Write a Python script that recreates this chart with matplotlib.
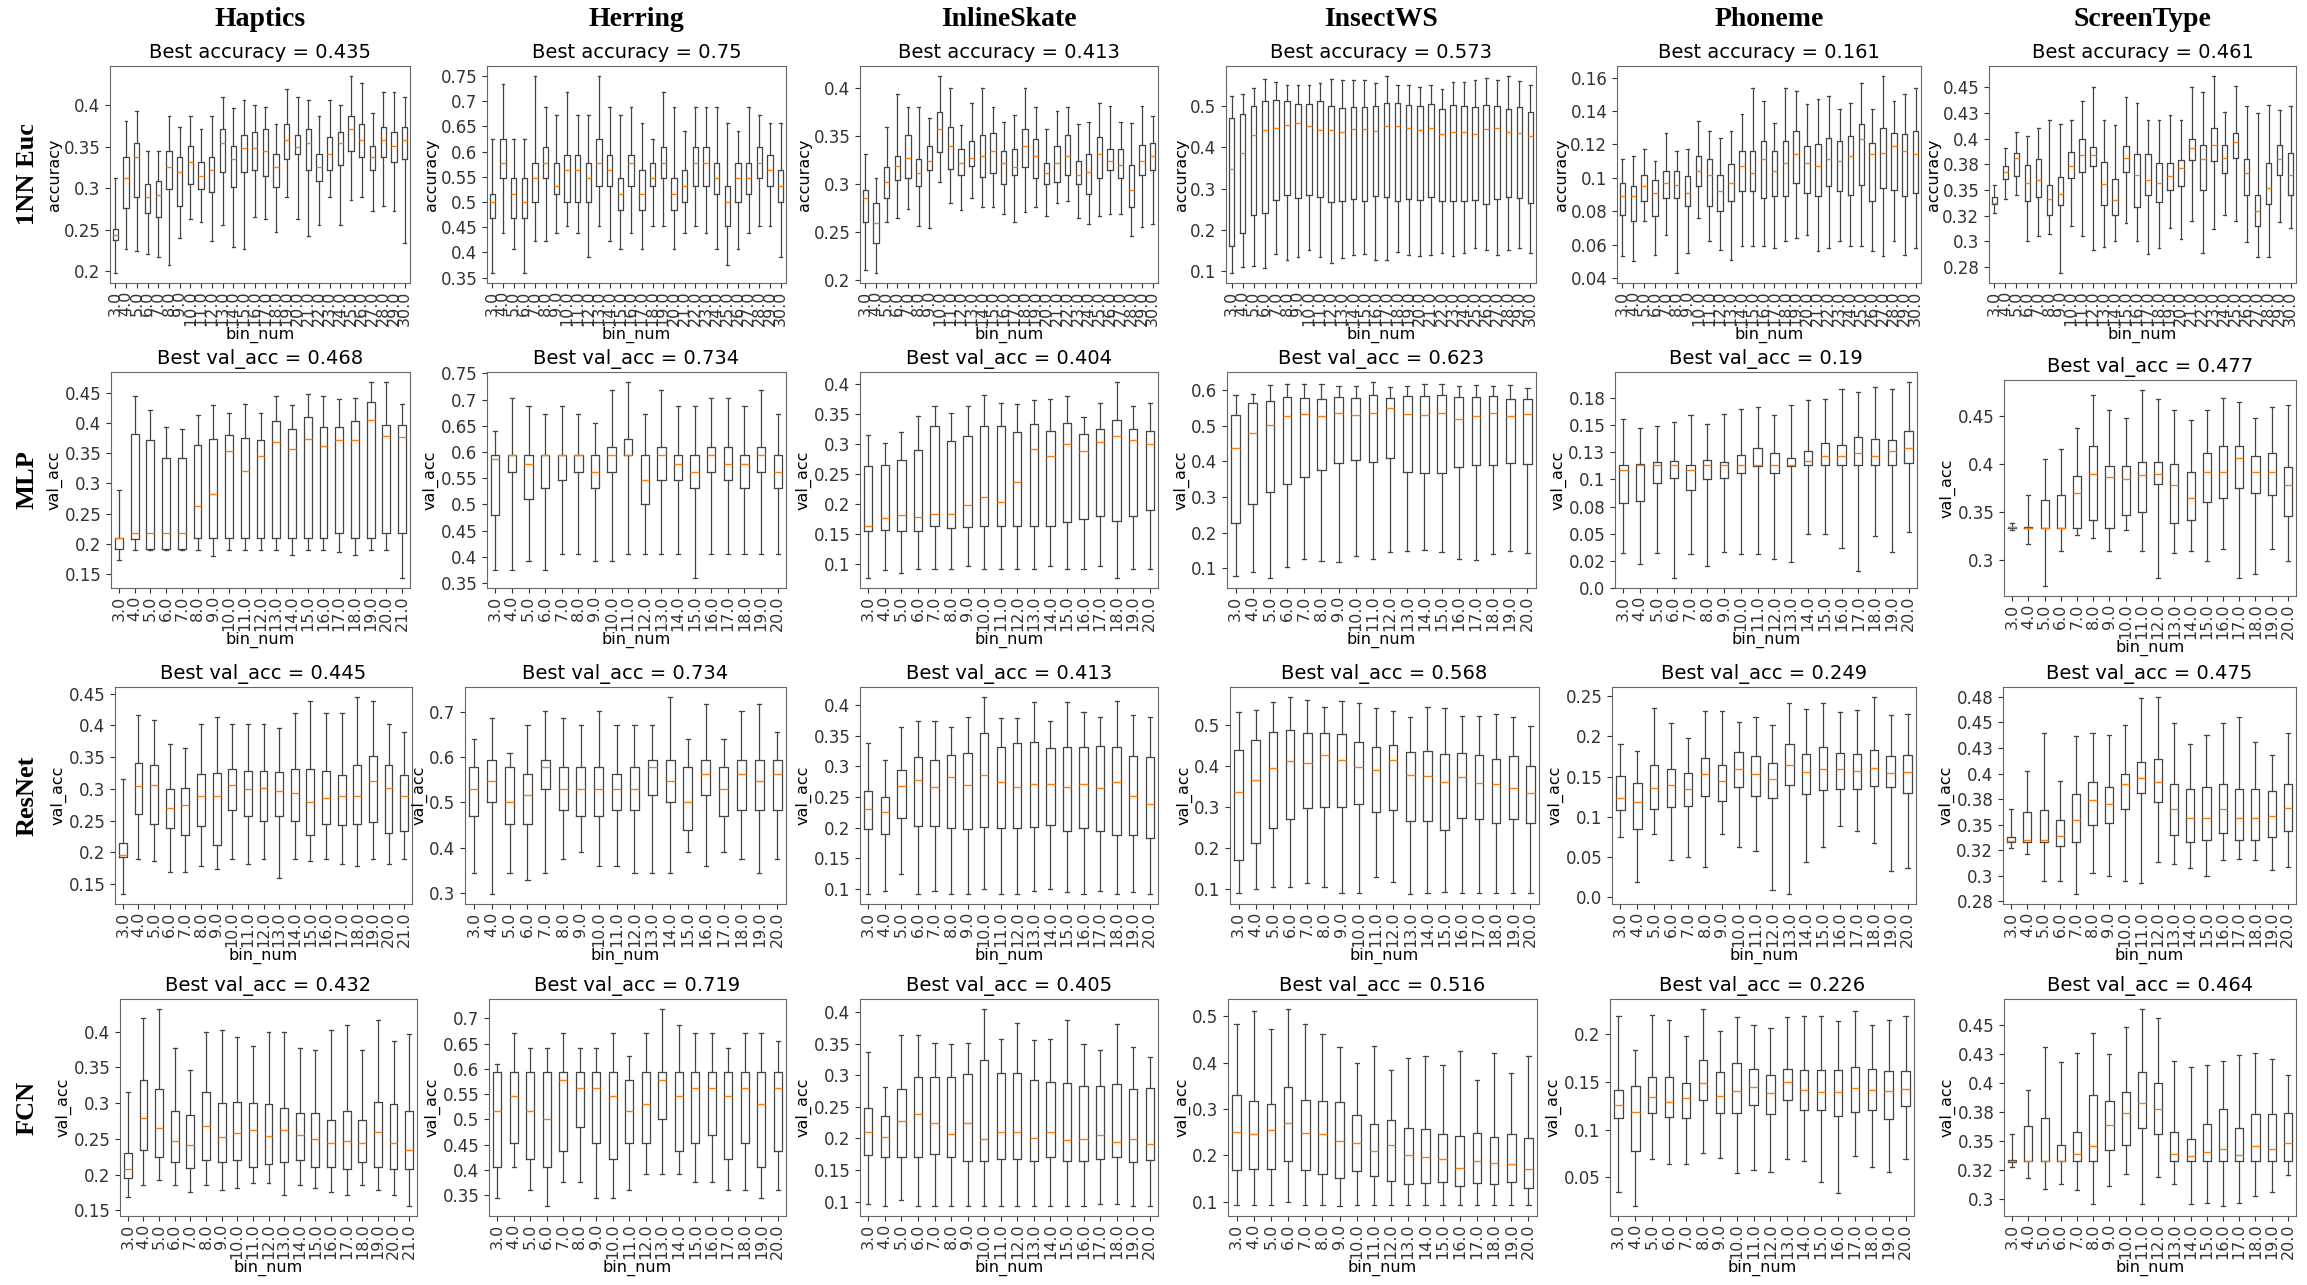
import matplotlib
matplotlib.use('Agg')
import matplotlib.pyplot as plt
from matplotlib.ticker import FuncFormatter, MaxNLocator

# (whisker low, q1, median, q3, whisker high) per bin
DATASETS = ['Haptics', 'Herring', 'InlineSkate', 'InsectWS', 'Phoneme', 'ScreenType']
MODELS = ['1NN Euc', 'MLP', 'ResNet', 'FCN']
YLABELS = ['accuracy', 'val_acc', 'val_acc', 'val_acc']

BINS_1NN = [float(b) for b in range(3, 31)]
BINS_DL = [float(b) for b in range(3, 21)]
BINS_DL_HAPTICS = [float(b) for b in range(3, 22)]

BEST_1NN = [0.435, 0.75, 0.413, 0.573, 0.161, 0.461]
BEST_MLP = [0.468, 0.734, 0.404, 0.623, 0.19, 0.477]
BEST_RESNET = [0.445, 0.734, 0.413, 0.568, 0.249, 0.475]
BEST_FCN = [0.432, 0.719, 0.405, 0.516, 0.226, 0.464]

# ---- 1NN Euc ----
NN_HAPTICS = [
    (0.198, 0.238, 0.244, 0.251, 0.312), (0.227, 0.276, 0.312, 0.338, 0.381),
    (0.224, 0.290, 0.338, 0.354, 0.393), (0.221, 0.270, 0.290, 0.305, 0.345),
    (0.217, 0.266, 0.292, 0.309, 0.345), (0.208, 0.299, 0.325, 0.345, 0.387),
    (0.240, 0.279, 0.319, 0.338, 0.374), (0.263, 0.305, 0.332, 0.351, 0.387),
    (0.260, 0.299, 0.315, 0.332, 0.371), (0.237, 0.296, 0.322, 0.338, 0.387),
    (0.256, 0.320, 0.354, 0.371, 0.410), (0.230, 0.302, 0.335, 0.351, 0.396),
    (0.227, 0.319, 0.348, 0.364, 0.406), (0.266, 0.322, 0.348, 0.368, 0.400),
    (0.263, 0.315, 0.345, 0.371, 0.397), (0.247, 0.302, 0.325, 0.341, 0.377),
    (0.289, 0.335, 0.358, 0.377, 0.419), (0.263, 0.341, 0.350, 0.364, 0.410),
    (0.243, 0.322, 0.354, 0.371, 0.406), (0.256, 0.309, 0.325, 0.341, 0.387),
    (0.289, 0.322, 0.341, 0.361, 0.406), (0.256, 0.328, 0.354, 0.368, 0.400),
    (0.286, 0.345, 0.371, 0.387, 0.435), (0.289, 0.338, 0.358, 0.377, 0.426),
    (0.273, 0.322, 0.338, 0.351, 0.390), (0.279, 0.338, 0.358, 0.374, 0.416),
    (0.273, 0.332, 0.351, 0.367, 0.416), (0.234, 0.335, 0.358, 0.374, 0.410),
]
NN_HERRING = [
    (0.359, 0.469, 0.5, 0.516, 0.625), (0.438, 0.547, 0.578, 0.625, 0.734),
    (0.406, 0.469, 0.516, 0.547, 0.625), (0.359, 0.469, 0.5, 0.547, 0.625),
    (0.422, 0.5, 0.547, 0.578, 0.75), (0.422, 0.547, 0.578, 0.609, 0.688),
    (0.438, 0.516, 0.531, 0.578, 0.672), (0.453, 0.5, 0.5625, 0.594, 0.719),
    (0.438, 0.5, 0.5625, 0.594, 0.672), (0.391, 0.5, 0.547, 0.578, 0.672),
    (0.453, 0.531, 0.578, 0.625, 0.75), (0.422, 0.531, 0.5625, 0.594, 0.688),
    (0.406, 0.484, 0.516, 0.547, 0.672), (0.438, 0.531, 0.578, 0.594, 0.688),
    (0.406, 0.484, 0.516, 0.5625, 0.656), (0.453, 0.531, 0.547, 0.578, 0.625),
    (0.453, 0.547, 0.578, 0.609, 0.719), (0.406, 0.484, 0.516, 0.547, 0.688),
    (0.438, 0.5, 0.531, 0.5625, 0.641), (0.453, 0.531, 0.578, 0.609, 0.688),
    (0.438, 0.531, 0.578, 0.609, 0.688), (0.406, 0.516, 0.547, 0.578, 0.688),
    (0.375, 0.453, 0.5, 0.531, 0.656), (0.406, 0.5, 0.547, 0.578, 0.641),
    (0.438, 0.516, 0.547, 0.578, 0.688), (0.453, 0.547, 0.578, 0.609, 0.672),
    (0.453, 0.531, 0.5625, 0.594, 0.656), (0.391, 0.5, 0.531, 0.5625, 0.656),
]
NN_INLINESKATE = [
    (0.210, 0.260, 0.285, 0.294, 0.331), (0.207, 0.238, 0.259, 0.280, 0.306),
    (0.260, 0.285, 0.302, 0.318, 0.360), (0.265, 0.304, 0.319, 0.329, 0.394),
    (0.274, 0.306, 0.327, 0.351, 0.380), (0.256, 0.298, 0.312, 0.326, 0.380),
    (0.254, 0.315, 0.324, 0.340, 0.369), (0.302, 0.333, 0.358, 0.375, 0.413),
    (0.280, 0.316, 0.340, 0.360, 0.400), (0.273, 0.310, 0.322, 0.337, 0.362),
    (0.285, 0.319, 0.327, 0.345, 0.385), (0.276, 0.307, 0.329, 0.351, 0.400),
    (0.276, 0.312, 0.335, 0.353, 0.380), (0.269, 0.300, 0.322, 0.335, 0.365),
    (0.260, 0.309, 0.318, 0.337, 0.372), (0.271, 0.318, 0.340, 0.358, 0.400),
    (0.276, 0.306, 0.329, 0.347, 0.380), (0.267, 0.300, 0.312, 0.322, 0.357),
    (0.280, 0.302, 0.322, 0.340, 0.376), (0.282, 0.310, 0.329, 0.351, 0.380),
    (0.265, 0.300, 0.309, 0.324, 0.363), (0.258, 0.290, 0.313, 0.331, 0.365),
    (0.267, 0.306, 0.331, 0.349, 0.385), (0.269, 0.315, 0.324, 0.337, 0.382),
    (0.269, 0.306, 0.320, 0.337, 0.365), (0.246, 0.276, 0.294, 0.320, 0.364),
    (0.255, 0.310, 0.324, 0.341, 0.382), (0.258, 0.315, 0.329, 0.343, 0.371),
]
NN_INSECTWS = [
    (0.095, 0.160, 0.348, 0.470, 0.525), (0.110, 0.193, 0.386, 0.480, 0.528),
    (0.112, 0.236, 0.430, 0.500, 0.543), (0.108, 0.241, 0.443, 0.512, 0.565),
    (0.142, 0.273, 0.447, 0.515, 0.558), (0.127, 0.285, 0.453, 0.512, 0.550),
    (0.133, 0.276, 0.458, 0.506, 0.552), (0.152, 0.285, 0.452, 0.505, 0.552),
    (0.135, 0.279, 0.442, 0.511, 0.556), (0.120, 0.267, 0.441, 0.500, 0.565),
    (0.131, 0.270, 0.436, 0.496, 0.562), (0.139, 0.275, 0.445, 0.498, 0.562),
    (0.142, 0.271, 0.445, 0.497, 0.562), (0.128, 0.282, 0.440, 0.500, 0.555),
    (0.128, 0.279, 0.451, 0.507, 0.573), (0.147, 0.271, 0.452, 0.507, 0.552),
    (0.140, 0.275, 0.446, 0.502, 0.552), (0.136, 0.273, 0.442, 0.499, 0.545),
    (0.140, 0.279, 0.447, 0.504, 0.552), (0.145, 0.271, 0.432, 0.493, 0.542),
    (0.136, 0.271, 0.437, 0.503, 0.559), (0.143, 0.270, 0.438, 0.501, 0.559),
    (0.155, 0.272, 0.431, 0.498, 0.562), (0.150, 0.263, 0.445, 0.502, 0.567),
    (0.138, 0.275, 0.446, 0.500, 0.562), (0.152, 0.280, 0.436, 0.493, 0.572),
    (0.155, 0.278, 0.435, 0.498, 0.560), (0.145, 0.265, 0.427, 0.485, 0.552),
]
NN_PHONEME = [
    (0.053, 0.078, 0.089, 0.097, 0.111), (0.050, 0.074, 0.089, 0.095, 0.113),
    (0.074, 0.086, 0.095, 0.102, 0.117), (0.054, 0.077, 0.091, 0.099, 0.110),
    (0.066, 0.088, 0.097, 0.104, 0.127), (0.043, 0.088, 0.096, 0.104, 0.116),
    (0.055, 0.083, 0.091, 0.101, 0.117), (0.076, 0.095, 0.104, 0.113, 0.134),
    (0.062, 0.083, 0.102, 0.111, 0.128), (0.057, 0.080, 0.092, 0.102, 0.124),
    (0.051, 0.086, 0.097, 0.108, 0.128), (0.059, 0.092, 0.107, 0.116, 0.138),
    (0.059, 0.092, 0.103, 0.116, 0.154), (0.059, 0.088, 0.111, 0.122, 0.146),
    (0.058, 0.089, 0.104, 0.116, 0.133), (0.062, 0.089, 0.109, 0.122, 0.154),
    (0.064, 0.097, 0.114, 0.128, 0.152), (0.066, 0.091, 0.109, 0.119, 0.144),
    (0.056, 0.089, 0.107, 0.120, 0.147), (0.058, 0.095, 0.111, 0.124, 0.149),
    (0.062, 0.092, 0.110, 0.122, 0.141), (0.059, 0.090, 0.113, 0.125, 0.145),
    (0.059, 0.096, 0.123, 0.132, 0.157), (0.056, 0.086, 0.114, 0.121, 0.141),
    (0.053, 0.094, 0.115, 0.130, 0.161), (0.062, 0.093, 0.119, 0.127, 0.146),
    (0.054, 0.089, 0.116, 0.126, 0.150), (0.058, 0.091, 0.114, 0.128, 0.154),
]
NN_SCREENTYPE = [
    (0.328, 0.336, 0.337, 0.343, 0.355), (0.341, 0.361, 0.367, 0.373, 0.391),
    (0.345, 0.364, 0.381, 0.386, 0.406), (0.300, 0.339, 0.357, 0.374, 0.402),
    (0.305, 0.343, 0.360, 0.380, 0.410), (0.307, 0.326, 0.341, 0.355, 0.418),
    (0.269, 0.335, 0.346, 0.363, 0.414), (0.315, 0.362, 0.373, 0.387, 0.418),
    (0.305, 0.367, 0.384, 0.400, 0.437), (0.292, 0.373, 0.384, 0.392, 0.450),
    (0.294, 0.335, 0.356, 0.377, 0.418), (0.300, 0.326, 0.340, 0.361, 0.413),
    (0.318, 0.367, 0.381, 0.393, 0.440), (0.300, 0.333, 0.365, 0.385, 0.435),
    (0.288, 0.345, 0.360, 0.385, 0.418), (0.293, 0.338, 0.357, 0.376, 0.418),
    (0.313, 0.350, 0.364, 0.376, 0.423), (0.302, 0.354, 0.371, 0.379, 0.418),
    (0.320, 0.379, 0.391, 0.400, 0.450), (0.289, 0.350, 0.380, 0.394, 0.445),
    (0.312, 0.378, 0.394, 0.410, 0.461), (0.326, 0.366, 0.381, 0.394, 0.426),
    (0.320, 0.381, 0.397, 0.405, 0.451), (0.299, 0.345, 0.366, 0.380, 0.432),
    (0.285, 0.315, 0.329, 0.345, 0.425), (0.285, 0.336, 0.352, 0.376, 0.433),
    (0.319, 0.365, 0.380, 0.394, 0.428), (0.313, 0.345, 0.365, 0.386, 0.432),
]

# ---- MLP ----
MLP_HAPTICS = [
    (0.173, 0.192, 0.209, 0.209, 0.289), (0.189, 0.208, 0.217, 0.381, 0.445),
    (0.189, 0.192, 0.217, 0.371, 0.421), (0.189, 0.192, 0.217, 0.342, 0.393),
    (0.189, 0.192, 0.217, 0.342, 0.390), (0.189, 0.209, 0.263, 0.363, 0.413),
    (0.179, 0.209, 0.283, 0.374, 0.429), (0.189, 0.209, 0.354, 0.380, 0.416),
    (0.189, 0.209, 0.321, 0.375, 0.432), (0.189, 0.209, 0.345, 0.371, 0.416),
    (0.189, 0.209, 0.368, 0.403, 0.445), (0.182, 0.209, 0.357, 0.390, 0.429),
    (0.189, 0.209, 0.374, 0.409, 0.448), (0.189, 0.209, 0.361, 0.393, 0.445),
    (0.186, 0.217, 0.371, 0.393, 0.439), (0.182, 0.210, 0.371, 0.403, 0.442),
    (0.189, 0.209, 0.404, 0.435, 0.468), (0.189, 0.217, 0.378, 0.397, 0.468),
    (0.143, 0.217, 0.377, 0.397, 0.432),
]
MLP_HERRING = [
    (0.375, 0.48, 0.586, 0.594, 0.641), (0.375, 0.5625, 0.594, 0.594, 0.703),
    (0.391, 0.51, 0.578, 0.594, 0.688), (0.375, 0.531, 0.594, 0.594, 0.672),
    (0.406, 0.547, 0.594, 0.594, 0.688), (0.406, 0.5625, 0.594, 0.594, 0.672),
    (0.391, 0.531, 0.5625, 0.594, 0.656), (0.391, 0.5625, 0.594, 0.609, 0.719),
    (0.406, 0.594, 0.594, 0.625, 0.734), (0.406, 0.5, 0.547, 0.594, 0.672),
    (0.406, 0.547, 0.594, 0.609, 0.719), (0.406, 0.547, 0.578, 0.594, 0.688),
    (0.359, 0.531, 0.5625, 0.594, 0.688), (0.406, 0.5625, 0.594, 0.609, 0.703),
    (0.406, 0.547, 0.578, 0.609, 0.703), (0.406, 0.531, 0.578, 0.594, 0.688),
    (0.406, 0.5625, 0.594, 0.609, 0.719), (0.406, 0.531, 0.5625, 0.594, 0.672),
]
MLP_INLINESKATE = [
    (0.077, 0.155, 0.164, 0.264, 0.316), (0.090, 0.157, 0.177, 0.266, 0.302),
    (0.085, 0.155, 0.182, 0.273, 0.320), (0.093, 0.155, 0.179, 0.291, 0.347),
    (0.093, 0.164, 0.184, 0.331, 0.363), (0.093, 0.160, 0.184, 0.306, 0.352),
    (0.097, 0.162, 0.199, 0.313, 0.363), (0.093, 0.164, 0.213, 0.331, 0.382),
    (0.093, 0.164, 0.204, 0.331, 0.369), (0.093, 0.164, 0.238, 0.320, 0.367),
    (0.093, 0.164, 0.292, 0.333, 0.374), (0.097, 0.164, 0.280, 0.322, 0.376),
    (0.093, 0.171, 0.300, 0.335, 0.380), (0.093, 0.175, 0.288, 0.317, 0.345),
    (0.097, 0.180, 0.304, 0.326, 0.369), (0.077, 0.173, 0.313, 0.340, 0.404),
    (0.093, 0.180, 0.307, 0.326, 0.363), (0.093, 0.191, 0.300, 0.322, 0.369),
]
MLP_INSECTWS = [
    (0.077, 0.226, 0.438, 0.530, 0.585), (0.088, 0.280, 0.480, 0.563, 0.590),
    (0.072, 0.313, 0.502, 0.570, 0.614), (0.104, 0.336, 0.527, 0.580, 0.616),
    (0.125, 0.357, 0.532, 0.577, 0.616), (0.120, 0.375, 0.527, 0.574, 0.616),
    (0.117, 0.396, 0.535, 0.581, 0.610), (0.134, 0.405, 0.530, 0.578, 0.612),
    (0.126, 0.397, 0.535, 0.587, 0.623), (0.145, 0.410, 0.550, 0.578, 0.608),
    (0.149, 0.370, 0.532, 0.584, 0.612), (0.150, 0.366, 0.530, 0.584, 0.616),
    (0.145, 0.366, 0.535, 0.587, 0.616), (0.125, 0.383, 0.520, 0.579, 0.610),
    (0.123, 0.390, 0.527, 0.579, 0.614), (0.140, 0.389, 0.535, 0.582, 0.612),
    (0.147, 0.396, 0.528, 0.576, 0.614), (0.142, 0.392, 0.532, 0.574, 0.607),
]
MLP_PHONEME = [
    (0.032, 0.078, 0.109, 0.1135, 0.1555), (0.022, 0.080, 0.1135, 0.114, 0.147),
    (0.032, 0.097, 0.1135, 0.116, 0.149), (0.009, 0.101, 0.1135, 0.117, 0.153),
    (0.031, 0.090, 0.109, 0.1135, 0.159), (0.020, 0.100, 0.1135, 0.1175, 0.151),
    (0.033, 0.101, 0.1135, 0.116, 0.160), (0.031, 0.106, 0.1135, 0.123, 0.165),
    (0.031, 0.112, 0.1135, 0.129, 0.1665), (0.027, 0.106, 0.1135, 0.124, 0.159),
    (0.024, 0.112, 0.1135, 0.120, 0.169), (0.050, 0.1135, 0.117, 0.126, 0.173),
    (0.050, 0.1135, 0.122, 0.134, 0.1745), (0.037, 0.1135, 0.1218, 0.132, 0.183),
    (0.016, 0.1135, 0.124, 0.1395, 0.181), (0.048, 0.1135, 0.122, 0.137, 0.185),
    (0.033, 0.1135, 0.126, 0.136, 0.183), (0.0515, 0.115, 0.1288, 0.145, 0.190),
]
MLP_SCREENTYPE = [
    (0.331, 0.333, 0.334, 0.335, 0.339), (0.317, 0.333, 0.3335, 0.334, 0.368),
    (0.273, 0.333, 0.3335, 0.3625, 0.405), (0.310, 0.333, 0.3335, 0.368, 0.416),
    (0.326, 0.3335, 0.3695, 0.387, 0.437), (0.323, 0.342, 0.390, 0.419, 0.472),
    (0.310, 0.3335, 0.386, 0.398, 0.456), (0.331, 0.347, 0.384, 0.398, 0.448),
    (0.310, 0.350, 0.388, 0.402, 0.477), (0.281, 0.379, 0.390, 0.402, 0.467),
    (0.307, 0.339, 0.378, 0.400, 0.456), (0.310, 0.342, 0.365, 0.392, 0.446),
    (0.299, 0.360, 0.392, 0.411, 0.456), (0.312, 0.365, 0.392, 0.419, 0.469),
    (0.281, 0.375, 0.406, 0.419, 0.464), (0.286, 0.370, 0.392, 0.408, 0.448),
    (0.312, 0.368, 0.392, 0.411, 0.459), (0.299, 0.346, 0.378, 0.397, 0.461),
]

# ---- ResNet ----
RESNET_HAPTICS = [
    (0.134, 0.192, 0.196, 0.215, 0.315), (0.189, 0.260, 0.304, 0.341, 0.416),
    (0.186, 0.244, 0.306, 0.338, 0.409), (0.169, 0.239, 0.270, 0.299, 0.370),
    (0.169, 0.228, 0.275, 0.302, 0.364), (0.179, 0.241, 0.289, 0.323, 0.403),
    (0.173, 0.211, 0.289, 0.325, 0.413), (0.189, 0.266, 0.306, 0.332, 0.403),
    (0.182, 0.257, 0.299, 0.328, 0.403), (0.189, 0.250, 0.301, 0.328, 0.403),
    (0.160, 0.257, 0.296, 0.326, 0.396), (0.189, 0.250, 0.293, 0.332, 0.419),
    (0.186, 0.228, 0.280, 0.332, 0.439), (0.189, 0.244, 0.286, 0.328, 0.419),
    (0.182, 0.243, 0.289, 0.322, 0.419), (0.179, 0.244, 0.288, 0.338, 0.445),
    (0.189, 0.247, 0.312, 0.351, 0.439), (0.182, 0.231, 0.301, 0.338, 0.403),
    (0.189, 0.233, 0.289, 0.322, 0.390),
]
RESNET_HERRING = [
    (0.344, 0.469, 0.531, 0.578, 0.641), (0.297, 0.5, 0.547, 0.594, 0.688),
    (0.344, 0.453, 0.5, 0.578, 0.609), (0.328, 0.453, 0.516, 0.5625, 0.672),
    (0.344, 0.531, 0.578, 0.594, 0.703), (0.375, 0.484, 0.531, 0.578, 0.688),
    (0.391, 0.469, 0.531, 0.578, 0.672), (0.359, 0.469, 0.531, 0.578, 0.703),
    (0.359, 0.484, 0.531, 0.5625, 0.672), (0.344, 0.484, 0.531, 0.578, 0.672),
    (0.344, 0.516, 0.578, 0.594, 0.672), (0.344, 0.5, 0.547, 0.594, 0.734),
    (0.391, 0.438, 0.5, 0.578, 0.641), (0.359, 0.516, 0.5625, 0.594, 0.719),
    (0.391, 0.469, 0.531, 0.578, 0.641), (0.375, 0.484, 0.5625, 0.594, 0.703),
    (0.344, 0.484, 0.547, 0.594, 0.719), (0.375, 0.484, 0.5625, 0.594, 0.656),
]
RESNET_INLINESKATE = [
    (0.093, 0.198, 0.231, 0.260, 0.338), (0.097, 0.190, 0.225, 0.250, 0.310),
    (0.125, 0.216, 0.268, 0.294, 0.364), (0.093, 0.203, 0.278, 0.315, 0.374),
    (0.097, 0.203, 0.267, 0.311, 0.374), (0.093, 0.200, 0.283, 0.318, 0.364),
    (0.093, 0.198, 0.270, 0.322, 0.381), (0.100, 0.201, 0.286, 0.355, 0.413),
    (0.092, 0.200, 0.275, 0.331, 0.378), (0.093, 0.200, 0.267, 0.338, 0.378),
    (0.097, 0.202, 0.272, 0.340, 0.404), (0.100, 0.205, 0.272, 0.329, 0.374),
    (0.095, 0.195, 0.267, 0.331, 0.405), (0.093, 0.200, 0.271, 0.331, 0.389),
    (0.097, 0.195, 0.265, 0.333, 0.381), (0.092, 0.189, 0.275, 0.332, 0.407),
    (0.095, 0.188, 0.252, 0.316, 0.384), (0.092, 0.183, 0.238, 0.315, 0.381),
]
RESNET_INSECTWS = [
    (0.090, 0.170, 0.337, 0.439, 0.530), (0.100, 0.213, 0.366, 0.462, 0.537),
    (0.106, 0.250, 0.396, 0.483, 0.556), (0.106, 0.272, 0.411, 0.488, 0.568),
    (0.115, 0.297, 0.407, 0.481, 0.560), (0.106, 0.300, 0.426, 0.479, 0.543),
    (0.090, 0.300, 0.414, 0.477, 0.557), (0.090, 0.308, 0.398, 0.457, 0.553),
    (0.129, 0.287, 0.391, 0.445, 0.542), (0.118, 0.293, 0.414, 0.451, 0.533),
    (0.088, 0.265, 0.378, 0.433, 0.520), (0.090, 0.266, 0.376, 0.436, 0.543),
    (0.092, 0.244, 0.362, 0.430, 0.542), (0.090, 0.273, 0.374, 0.432, 0.522),
    (0.090, 0.271, 0.358, 0.426, 0.522), (0.090, 0.261, 0.356, 0.417, 0.526),
    (0.090, 0.271, 0.347, 0.425, 0.520), (0.090, 0.262, 0.333, 0.400, 0.497),
]
RESNET_PHONEME = [
    (0.075, 0.108, 0.124, 0.151, 0.190), (0.019, 0.085, 0.118, 0.142, 0.182),
    (0.079, 0.110, 0.136, 0.164, 0.235), (0.047, 0.112, 0.140, 0.160, 0.216),
    (0.050, 0.113, 0.134, 0.155, 0.198), (0.038, 0.126, 0.153, 0.173, 0.231),
    (0.079, 0.120, 0.145, 0.165, 0.232), (0.062, 0.137, 0.160, 0.180, 0.218),
    (0.058, 0.126, 0.153, 0.175, 0.224), (0.009, 0.123, 0.147, 0.167, 0.214),
    (0.004, 0.140, 0.165, 0.190, 0.242), (0.044, 0.128, 0.156, 0.178, 0.234),
    (0.063, 0.133, 0.160, 0.187, 0.242), (0.089, 0.135, 0.159, 0.179, 0.230),
    (0.083, 0.134, 0.157, 0.178, 0.233), (0.067, 0.138, 0.161, 0.183, 0.249),
    (0.033, 0.137, 0.155, 0.175, 0.227), (0.036, 0.130, 0.156, 0.177, 0.228),
]
RESNET_SCREENTYPE = [
    (0.327, 0.333, 0.334, 0.338, 0.365), (0.321, 0.333, 0.335, 0.362, 0.402),
    (0.295, 0.333, 0.335, 0.364, 0.440), (0.295, 0.329, 0.339, 0.355, 0.393),
    (0.282, 0.333, 0.355, 0.380, 0.437), (0.303, 0.350, 0.374, 0.392, 0.440),
    (0.300, 0.352, 0.370, 0.387, 0.438), (0.295, 0.365, 0.390, 0.400, 0.447),
    (0.293, 0.381, 0.396, 0.411, 0.474), (0.313, 0.372, 0.392, 0.414, 0.475),
    (0.311, 0.340, 0.365, 0.390, 0.449), (0.308, 0.333, 0.356, 0.385, 0.429),
    (0.300, 0.335, 0.356, 0.387, 0.438), (0.315, 0.342, 0.365, 0.390, 0.449),
    (0.316, 0.335, 0.356, 0.385, 0.455), (0.315, 0.335, 0.356, 0.385, 0.431),
    (0.306, 0.338, 0.358, 0.383, 0.418), (0.309, 0.344, 0.366, 0.390, 0.440),
]

# ---- FCN ----
FCN_HAPTICS = [
    (0.169, 0.196, 0.208, 0.231, 0.315), (0.186, 0.234, 0.279, 0.332, 0.419),
    (0.192, 0.225, 0.266, 0.320, 0.432), (0.186, 0.218, 0.247, 0.289, 0.377),
    (0.176, 0.210, 0.242, 0.283, 0.347), (0.186, 0.221, 0.268, 0.315, 0.400),
    (0.178, 0.218, 0.253, 0.300, 0.403), (0.182, 0.221, 0.258, 0.302, 0.392),
    (0.189, 0.211, 0.262, 0.300, 0.380), (0.189, 0.215, 0.254, 0.299, 0.400),
    (0.172, 0.218, 0.263, 0.293, 0.400), (0.186, 0.220, 0.256, 0.286, 0.377),
    (0.182, 0.211, 0.250, 0.286, 0.374), (0.176, 0.211, 0.244, 0.276, 0.403),
    (0.172, 0.208, 0.247, 0.289, 0.409), (0.186, 0.218, 0.244, 0.276, 0.374),
    (0.179, 0.211, 0.260, 0.302, 0.416), (0.172, 0.208, 0.245, 0.299, 0.387),
    (0.156, 0.208, 0.235, 0.289, 0.397),
]
FCN_HERRING = [
    (0.344, 0.406, 0.516, 0.594, 0.609), (0.406, 0.453, 0.547, 0.594, 0.672),
    (0.359, 0.422, 0.516, 0.594, 0.641), (0.328, 0.406, 0.5, 0.594, 0.641),
    (0.375, 0.438, 0.578, 0.594, 0.672), (0.375, 0.484, 0.5625, 0.594, 0.641),
    (0.344, 0.453, 0.5625, 0.594, 0.641), (0.344, 0.422, 0.547, 0.594, 0.672),
    (0.359, 0.453, 0.516, 0.578, 0.625), (0.391, 0.453, 0.531, 0.594, 0.672),
    (0.391, 0.5, 0.578, 0.594, 0.719), (0.391, 0.438, 0.547, 0.594, 0.688),
    (0.375, 0.453, 0.5625, 0.594, 0.672), (0.375, 0.469, 0.5625, 0.594, 0.672),
    (0.359, 0.422, 0.547, 0.594, 0.641), (0.359, 0.453, 0.5625, 0.594, 0.672),
    (0.344, 0.406, 0.531, 0.594, 0.672), (0.359, 0.438, 0.5625, 0.594, 0.656),
]
FCN_INLINESKATE = [
    (0.096, 0.174, 0.211, 0.248, 0.337), (0.093, 0.171, 0.202, 0.235, 0.282),
    (0.102, 0.171, 0.228, 0.279, 0.364), (0.093, 0.171, 0.238, 0.297, 0.364),
    (0.093, 0.175, 0.224, 0.297, 0.351), (0.094, 0.170, 0.207, 0.297, 0.349),
    (0.093, 0.165, 0.225, 0.302, 0.351), (0.093, 0.164, 0.199, 0.324, 0.405),
    (0.093, 0.168, 0.210, 0.304, 0.358), (0.093, 0.167, 0.211, 0.304, 0.382),
    (0.093, 0.165, 0.200, 0.293, 0.356), (0.094, 0.171, 0.210, 0.290, 0.358),
    (0.093, 0.165, 0.198, 0.287, 0.387), (0.093, 0.165, 0.199, 0.283, 0.349),
    (0.096, 0.167, 0.206, 0.283, 0.340), (0.096, 0.171, 0.195, 0.286, 0.381),
    (0.093, 0.163, 0.199, 0.278, 0.344), (0.093, 0.166, 0.192, 0.280, 0.329),
]
FCN_INSECTWS = [
    (0.093, 0.167, 0.250, 0.330, 0.484), (0.093, 0.170, 0.245, 0.318, 0.512),
    (0.093, 0.170, 0.254, 0.310, 0.473), (0.098, 0.188, 0.270, 0.347, 0.516),
    (0.093, 0.168, 0.249, 0.320, 0.484), (0.093, 0.160, 0.245, 0.316, 0.462),
    (0.090, 0.150, 0.230, 0.314, 0.433), (0.093, 0.166, 0.227, 0.287, 0.400),
    (0.093, 0.156, 0.209, 0.267, 0.435), (0.093, 0.144, 0.222, 0.275, 0.384),
    (0.093, 0.138, 0.200, 0.259, 0.410), (0.093, 0.140, 0.197, 0.257, 0.415),
    (0.093, 0.142, 0.191, 0.246, 0.395), (0.093, 0.134, 0.173, 0.242, 0.425),
    (0.092, 0.139, 0.187, 0.247, 0.363), (0.093, 0.138, 0.183, 0.240, 0.420),
    (0.092, 0.142, 0.181, 0.245, 0.378), (0.092, 0.129, 0.171, 0.238, 0.414),
]
FCN_PHONEME = [
    (0.035, 0.112, 0.126, 0.141, 0.219), (0.020, 0.078, 0.118, 0.145, 0.183),
    (0.069, 0.117, 0.134, 0.155, 0.220), (0.064, 0.113, 0.129, 0.155, 0.214),
    (0.064, 0.112, 0.133, 0.149, 0.198), (0.075, 0.131, 0.149, 0.173, 0.226),
    (0.070, 0.117, 0.135, 0.160, 0.203), (0.055, 0.117, 0.140, 0.169, 0.217),
    (0.058, 0.126, 0.144, 0.163, 0.209), (0.056, 0.116, 0.138, 0.157, 0.206),
    (0.069, 0.131, 0.150, 0.163, 0.217), (0.067, 0.120, 0.141, 0.162, 0.219),
    (0.045, 0.120, 0.139, 0.162, 0.219), (0.034, 0.114, 0.139, 0.162, 0.213),
    (0.072, 0.118, 0.143, 0.165, 0.224), (0.061, 0.120, 0.141, 0.163, 0.209),
    (0.056, 0.111, 0.140, 0.161, 0.214), (0.069, 0.125, 0.142, 0.161, 0.219),
]
FCN_SCREENTYPE = [
    (0.328, 0.332, 0.333, 0.334, 0.356), (0.318, 0.333, 0.333, 0.363, 0.394),
    (0.309, 0.333, 0.333, 0.370, 0.431), (0.313, 0.333, 0.333, 0.347, 0.418),
    (0.308, 0.333, 0.339, 0.358, 0.426), (0.296, 0.333, 0.346, 0.390, 0.443),
    (0.311, 0.342, 0.364, 0.385, 0.425), (0.322, 0.347, 0.374, 0.392, 0.448),
    (0.296, 0.361, 0.383, 0.410, 0.464), (0.319, 0.356, 0.378, 0.400, 0.456),
    (0.313, 0.333, 0.339, 0.358, 0.419), (0.296, 0.333, 0.337, 0.352, 0.414),
    (0.297, 0.333, 0.341, 0.365, 0.416), (0.294, 0.333, 0.343, 0.378, 0.419),
    (0.297, 0.333, 0.338, 0.361, 0.424), (0.303, 0.333, 0.346, 0.373, 0.426),
    (0.306, 0.333, 0.343, 0.373, 0.421), (0.321, 0.333, 0.348, 0.374, 0.407),
]

GRID = [
    [NN_HAPTICS, NN_HERRING, NN_INLINESKATE, NN_INSECTWS, NN_PHONEME, NN_SCREENTYPE],
    [MLP_HAPTICS, MLP_HERRING, MLP_INLINESKATE, MLP_INSECTWS, MLP_PHONEME, MLP_SCREENTYPE],
    [RESNET_HAPTICS, RESNET_HERRING, RESNET_INLINESKATE, RESNET_INSECTWS, RESNET_PHONEME, RESNET_SCREENTYPE],
    [FCN_HAPTICS, FCN_HERRING, FCN_INLINESKATE, FCN_INSECTWS, FCN_PHONEME, FCN_SCREENTYPE],
]
BEST = [BEST_1NN, BEST_MLP, BEST_RESNET, BEST_FCN]

# axes boxes in pixels: (left, right) per row and column, (top, bottom) per row
W, H = 2307, 1285
X_EDGES = [
    [(110, 410), (487, 786), (860, 1158), (1226, 1536), (1617, 1921), (1989, 2296)],
    [(111, 410), (487, 786), (860, 1158), (1227, 1536), (1615, 1917), (2004, 2296)],
    [(115, 412), (465, 786), (860, 1158), (1230, 1539), (1612, 1916), (2003, 2296)],
    [(120, 417), (489, 786), (860, 1158), (1228, 1537), (1610, 1914), (2004, 2296)],
]
Y_EDGES = [(66, 283), (372, 588), (687, 904), (999, 1216)]

fig = plt.figure(figsize=(W / 100, H / 100), dpi=100)
fmt = FuncFormatter(lambda v, p: str(round(v, 2)))
line = '#444444'

for r in range(4):
    top, bot = Y_EDGES[r]
    for c in range(6):
        left, right = X_EDGES[r][c]
        t, b = top, bot
        nbins = 9
        if r == 1 and c == 5:
            # this panel sits a little lower and has coarser ticks
            t, b = top + 8, bot + 8
            nbins = 8
        ax = fig.add_axes([left / W, 1 - b / H, (right - left) / W, (b - t) / H])
        stats = []
        for lo, q1, med, q3, hi in GRID[r][c]:
            stats.append({'whislo': lo, 'q1': q1, 'med': med, 'q3': q3,
                          'whishi': hi, 'fliers': []})
        if r == 0:
            bins = BINS_1NN
        elif c == 0:
            bins = BINS_DL_HAPTICS
        else:
            bins = BINS_DL
        ax.bxp(stats, showfliers=False, widths=0.5,
               boxprops=dict(color=line, linewidth=0.9),
               whiskerprops=dict(color=line, linewidth=0.9),
               capprops=dict(color=line, linewidth=0.9),
               medianprops=dict(color='#ff7f0e', linewidth=1.0))
        ax.set_xticks(range(1, len(bins) + 1))
        ax.set_xticklabels(['%.1f' % b for b in bins], rotation=90, fontsize=11.5)
        ax.yaxis.set_major_locator(MaxNLocator(nbins=nbins, steps=[1, 2, 2.5, 5, 10]))
        ax.yaxis.set_major_formatter(fmt)
        ax.tick_params(axis='y', labelsize=12)
        ax.tick_params(axis='x', pad=2)
        ax.tick_params(colors='#333333')
        for s in ax.spines.values():
            s.set_color('#666666')
        prefix = 'Best accuracy = ' if r == 0 else 'Best val_acc = '
        ax.set_title(prefix + str(BEST[r][c]), fontsize=14)
        ax.set_ylabel(YLABELS[r], fontsize=11.5, labelpad=1)
        ax.set_xlabel('bin_num', fontsize=11.5, labelpad=0)
        if r == 0:
            fig.text((left + right) / 2 / W, 1 - 20 / H, DATASETS[c],
                     ha='center', va='center', fontsize=20, fontweight='bold',
                     family='Liberation Serif')
        if c == 0:
            fig.text(27 / W, 1 - (top + bot) / 2 / H, MODELS[r], rotation=90,
                     ha='center', va='center', fontsize=19, fontweight='bold',
                     family='Liberation Serif')

fig.savefig('out.png', dpi=100, facecolor='white')
